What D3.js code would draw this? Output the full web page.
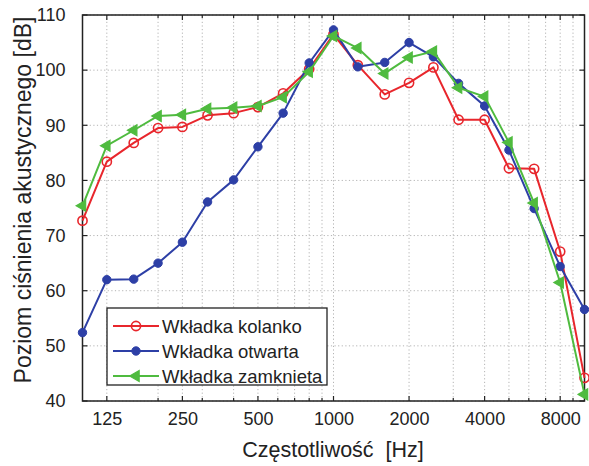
<!DOCTYPE html>
<html>
<head>
<meta charset="utf-8">
<script src="https://cdn.jsdelivr.net/npm/d3@7"></script>
<style>
  html, body { margin: 0; padding: 0; background: #fff; }
  svg { display: block; font-family: "Liberation Sans", Arial, sans-serif; }
</style>
</head>
<body>
<svg id="chart" width="589" height="466"></svg>
<script>
// Third-octave band centre frequencies [Hz]
const freqs = [100, 125, 160, 200, 250, 315, 400, 500, 630, 800, 1000,
               1250, 1600, 2000, 2500, 3150, 4000, 5000, 6300, 8000, 10000];

// Sound pressure level [dB] for each earpiece variant
const kolanko   = [72.7, 83.4, 86.8, 89.5, 89.7, 91.8, 92.2, 93.3, 95.8, 100.2, 106.5,
                   100.9, 95.6, 97.7, 100.5, 91.0, 91.0, 82.2, 82.1, 67.1, 44.2];
const otwarta   = [52.4, 62.0, 62.1, 65.0, 68.8, 76.1, 80.1, 86.1, 92.2, 101.3, 107.3,
                   100.6, 101.4, 105.0, 102.4, 97.6, 93.5, 85.5, 74.9, 64.4, 56.6];
const zamknieta = [75.4, 86.3, 89.1, 91.7, 91.9, 93.0, 93.2, 93.5, 95.1, 99.7, 106.2,
                   104.0, 99.4, 102.3, 103.4, 96.8, 95.2, 86.9, 75.9, 61.5, 41.2];

const seriesNames = ["Wkładka kolanko", "Wkładka otwarta", "Wkładka zamknieta"];

// Axis ticks
const xTicks = [125, 250, 500, 1000, 2000, 4000, 8000];
const xMinor = [200, 300, 400, 600, 700, 800, 900, 3000, 5000, 6000, 7000, 9000];
const yTicks = [40, 50, 60, 70, 80, 90, 100, 110];

const svg = d3.select("#chart");
const margin = { left: 82.5, right: 4.5, top: 15, bottom: 65 };
const W = 589, H = 466;
const x = d3.scaleLog().domain([100, 10000]).range([margin.left, W - margin.right]);
const y = d3.scaleLinear().domain([40, 110]).range([H - margin.bottom, margin.top]);

const x0 = x.range()[0], x1 = x.range()[1];
const y0 = y.range()[0], y1 = y.range()[1];

// Dotted grid
const grid = svg.append("g").attr("stroke", "#b4b4b4").attr("stroke-width", 1)
  .attr("stroke-dasharray", "1.2,2.4");
xTicks.concat(xMinor).forEach(f => {
  grid.append("line").attr("x1", x(f)).attr("x2", x(f)).attr("y1", y0).attr("y2", y1);
});
yTicks.forEach(v => {
  grid.append("line").attr("x1", x0).attr("x2", x1).attr("y1", y(v)).attr("y2", y(v));
});

// Inward tick marks on all four sides
const tk = svg.append("g").attr("stroke", "#222").attr("stroke-width", 1.2);
xTicks.forEach(f => {
  tk.append("line").attr("x1", x(f)).attr("x2", x(f)).attr("y1", y0).attr("y2", y0 - 5);
  tk.append("line").attr("x1", x(f)).attr("x2", x(f)).attr("y1", y1).attr("y2", y1 + 5);
});
xMinor.forEach(f => {
  tk.append("line").attr("x1", x(f)).attr("x2", x(f)).attr("y1", y0).attr("y2", y0 - 3);
  tk.append("line").attr("x1", x(f)).attr("x2", x(f)).attr("y1", y1).attr("y2", y1 + 3);
});
yTicks.forEach(v => {
  tk.append("line").attr("x1", x0).attr("x2", x0 + 5).attr("y1", y(v)).attr("y2", y(v));
  tk.append("line").attr("x1", x1).attr("x2", x1 - 5).attr("y1", y(v)).attr("y2", y(v));
});

// Axes via d3 (labels only; lines drawn as the box)
const xAxis = svg.append("g").attr("transform", `translate(0,${y0})`)
  .call(d3.axisBottom(x).tickValues(xTicks).tickFormat(d3.format("d")).tickSize(0).tickPadding(11));
xAxis.select(".domain").remove();
xAxis.selectAll("text").attr("font-size", 18).attr("fill", "#222")
  .attr("font-family", "Liberation Sans, Arial, sans-serif");

const yAxis = svg.append("g").attr("transform", `translate(${x0},0)`)
  .call(d3.axisLeft(y).tickValues(yTicks).tickFormat(d3.format("d")).tickSize(0).tickPadding(17));
yAxis.select(".domain").remove();
yAxis.selectAll("text").attr("font-size", 18).attr("fill", "#222")
  .attr("font-family", "Liberation Sans, Arial, sans-serif");

// Axes box
svg.append("rect").attr("x", x0).attr("y", y1).attr("width", x1 - x0).attr("height", y0 - y1)
  .attr("fill", "none").attr("stroke", "#222").attr("stroke-width", 1.5);

// Axis titles
svg.append("text").attr("x", 333).attr("y", 457).attr("text-anchor", "middle")
  .attr("font-size", 21.5).attr("fill", "#222").attr("xml:space", "preserve")
  .text("Częstotliwość  [Hz]");
svg.append("text").attr("transform", "translate(31,200) rotate(-90)")
  .attr("text-anchor", "middle").attr("font-size", 23).attr("fill", "#222")
  .text("Poziom ciśnienia akustycznego [dB]");

// Series styles
const colors = ["#e8262c", "#2d3fa6", "#4fbb3f"];
const data = [kolanko, otwarta, zamknieta];
const line = d3.line().x(d => x(d[0])).y(d => y(d[1]));
const tri = d3.symbol().type(d3.symbolTriangle).size(52)();

function drawMarker(g, i, px, py) {
  if (i === 0) {
    g.append("circle").attr("cx", px).attr("cy", py).attr("r", 4.6)
      .attr("fill", "none").attr("stroke", colors[0]).attr("stroke-width", 1.6);
  } else if (i === 1) {
    g.append("circle").attr("cx", px).attr("cy", py).attr("r", 4.2)
      .attr("fill", colors[1]).attr("stroke", colors[1]).attr("stroke-width", 1);
  } else {
    g.append("path").attr("d", tri)
      .attr("transform", `translate(${px},${py}) rotate(-90)`)
      .attr("fill", colors[2]).attr("stroke", colors[2]).attr("stroke-width", 1.2);
  }
}

const plot = svg.append("g");
data.forEach((vals, i) => {
  const pts = freqs.map((f, k) => [f, vals[k]]);
  const g = plot.append("g");
  g.append("path").attr("d", line(pts)).attr("fill", "none")
    .attr("stroke", colors[i]).attr("stroke-width", 2).attr("stroke-linejoin", "round");
  pts.forEach(p => drawMarker(g, i, x(p[0]), y(p[1])));
});

// Legend
const lg = svg.append("g");
lg.append("rect").attr("x", 107).attr("y", 308).attr("width", 220).attr("height", 77)
  .attr("fill", "#fff").attr("stroke", "#222").attr("stroke-width", 1.3);
seriesNames.forEach((name, i) => {
  const cy = 326 + i * 25;
  lg.append("line").attr("x1", 113).attr("x2", 159).attr("y1", cy).attr("y2", cy)
    .attr("stroke", colors[i]).attr("stroke-width", 2);
  drawMarker(lg, i, 136, cy);
  lg.append("text").attr("x", 162).attr("y", cy + 6.5).attr("font-size", 18.5)
    .attr("fill", "#222").text(name);
});
</script>
</body>
</html>
